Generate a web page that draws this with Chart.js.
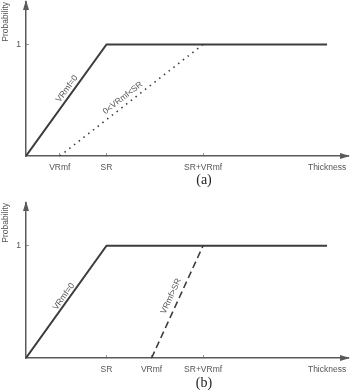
<!DOCTYPE html>
<html>
<head>
<meta charset="utf-8">
<script src="https://cdn.jsdelivr.net/npm/chart.js@4.4.1/dist/chart.umd.min.js"></script>
<style>
  body { margin: 0; background: #fff; }
  #wrap { position: relative; width: 350px; height: 390px; }
  .panel { position: absolute; left: 0; width: 350px; height: 195px; }
  .cap { position: absolute; width: 40px; margin-left: -20px; text-align: center;
         font: 14px "Liberation Serif", "Times New Roman", serif; color: #222; }
</style>
</head>
<body>
<div id="wrap">
  <div class="panel" style="top:0"><canvas id="chartA"></canvas></div>
  <div class="panel" style="top:195px"><canvas id="chartB"></canvas></div>
  <div class="cap" style="left:204px;top:172px">(a)</div>
  <div class="cap" style="left:204px;top:375px">(b)</div>
</div>
<script>
// --- data (schematic units: SR = 1) ---
const xMax = 4.0;
const yMax = 1.38;

const ticksA = [0.42, 1, 2.2, 3.74];
const tickLabelsA = ["VRmf", "SR", "SR+VRmf", "Thickness"];
const ticksB = [1, 1.56, 2.2, 3.74];
const tickLabelsB = ["SR", "VRmf", "SR+VRmf", "Thickness"];

// VRmf = 0 curve (same in both panels)
const zeroX = [0, 1, 3.74];
const zeroY = [0, 1, 1];
// (a) 0 < VRmf < SR
const midX = [0.42, 2.2];
const midY = [0, 1];
// (b) VRmf > SR
const bigX = [1.56, 2.2];
const bigY = [0, 1];

const LINE = "#3d3d3d";
const AXIS = "#5a5a5a";
const TEXT = "#555";
const FONT = '"Liberation Sans Narrow", "Liberation Sans", Arial, sans-serif';
const FSIZE = 8.5;

function pts(xs, ys) {
  return xs.map((x, i) => ({ x: x, y: ys[i] }));
}

// labels written along the lines + axis arrows
const decorPlugin = {
  id: "decor",
  afterDraw(chart, args, opts) {
    const ctx = chart.ctx;
    const sx = chart.scales.x, sy = chart.scales.y;
    const area = chart.chartArea;
    ctx.save();
    // arrows
    ctx.fillStyle = AXIS;
    ctx.beginPath();
    ctx.moveTo(area.right + 2, area.bottom);
    ctx.lineTo(area.right - 8, area.bottom - 3);
    ctx.lineTo(area.right - 8, area.bottom + 3);
    ctx.closePath();
    ctx.fill();
    ctx.beginPath();
    ctx.moveTo(area.left, area.top - 2);
    ctx.lineTo(area.left - 3, area.top + 8);
    ctx.lineTo(area.left + 3, area.top + 8);
    ctx.closePath();
    ctx.fill();
    // line labels
    ctx.fillStyle = TEXT;
    ctx.font = FSIZE + "px " + FONT;
    ctx.textAlign = "center";
    ctx.textBaseline = "middle";
    (opts.labels || []).forEach(l => {
      const d = chart.data.datasets[l.ds].data;
      const p0 = d[l.seg], p1 = d[l.seg + 1];
      const x0 = sx.getPixelForValue(p0.x), y0 = sy.getPixelForValue(p0.y);
      const x1 = sx.getPixelForValue(p1.x), y1 = sy.getPixelForValue(p1.y);
      const ang = Math.atan2(y1 - y0, x1 - x0);
      ctx.save();
      ctx.translate(x0 + (x1 - x0) * l.t, y0 + (y1 - y0) * l.t);
      ctx.rotate(ang);
      ctx.fillText(l.text, 0, -l.off);
      ctx.restore();
    });
    ctx.restore();
  }
};

function makeChart(id, ticks, tickLabels, datasets, padTop, xHeight, labels) {
  return new Chart(document.getElementById(id), {
    type: "scatter",
    data: { datasets: datasets },
    plugins: [decorPlugin],
    options: {
      responsive: false,
      animation: false,
      devicePixelRatio: 1,
      layout: { padding: { top: padTop, right: 2, bottom: 0, left: 0 } },
      plugins: {
        legend: { display: false },
        tooltip: { enabled: false },
        decor: { labels: labels }
      },
      scales: {
        x: {
          type: "linear",
          min: 0,
          max: xMax,
          border: { color: AXIS, width: 1.5 },
          grid: {
            drawOnChartArea: false,
            tickLength: -3,
            color: c => (c.tick && c.tick.value === ticks[ticks.length - 1] ? "rgba(0,0,0,0)" : "#999")
          },
          afterBuildTicks: s => { s.ticks = ticks.map(v => ({ value: v })); },
          afterFit: s => {
            s.height = xHeight;
            s.paddingLeft = 0; s.paddingRight = 0;
          },
          ticks: {
            padding: 10,
            color: TEXT,
            font: { size: FSIZE, family: FONT },
            maxRotation: 0,
            autoSkip: false,
            callback: v => tickLabels[ticks.indexOf(v)]
          }
        },
        y: {
          type: "linear",
          min: 0,
          max: yMax,
          border: { color: AXIS, width: 1.5 },
          grid: { drawOnChartArea: false, tickLength: -3, color: "#999" },
          afterBuildTicks: s => { s.ticks = [{ value: 1 }]; },
          afterFit: s => {
            s.width = 26;
            s.paddingTop = 0; s.paddingBottom = 0;
          },
          title: {
            display: true,
            text: "Probability",
            align: "end",
            color: TEXT,
            font: { size: FSIZE, family: FONT },
            padding: { top: 1, bottom: 0 }
          },
          ticks: {
            padding: 8,
            color: TEXT,
            font: { size: FSIZE, family: FONT },
            callback: v => (v === 1 ? "1" : "")
          }
        }
      }
    }
  });
}

function lineSet(data, dash, width) {
  return {
    data: data,
    showLine: true,
    borderColor: LINE,
    borderWidth: width,
    borderDash: dash,
    pointRadius: 0,
    fill: false
  };
}

document.getElementById("chartA").width = 350;
document.getElementById("chartA").height = 195;
document.getElementById("chartB").width = 350;
document.getElementById("chartB").height = 195;

makeChart("chartA", ticksA, tickLabelsA,
  [lineSet(pts(zeroX, zeroY), [], 2), lineSet(pts(midX, midY), [1.5, 4.5], 1.6)],
  2, 39,
  [
    { ds: 0, seg: 0, t: 0.57, off: 6, text: "VRmf=0" },
    { ds: 1, seg: 0, t: 0.47, off: 7, text: "0<VRmf<SR" }
  ]);

makeChart("chartB", ticksB, tickLabelsB,
  [lineSet(pts(zeroX, zeroY), [], 2), lineSet(pts(bigX, bigY), [7, 4], 1.6)],
  8, 32,
  [
    { ds: 0, seg: 0, t: 0.52, off: 5, text: "VRmf=0" },
    { ds: 1, seg: 0, t: 0.52, off: 8, text: "VRmf>SR" }
  ]);
</script>
</body>
</html>
